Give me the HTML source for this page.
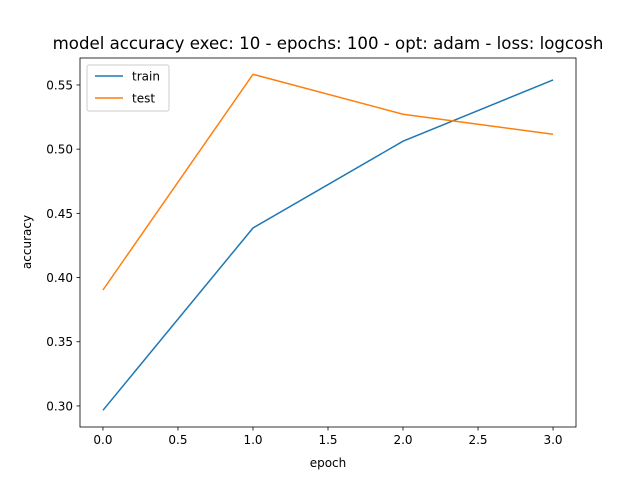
<!DOCTYPE html>
<html><head><meta charset="utf-8"><style>
body{margin:0;background:#fff}
svg text{font-family:"DejaVu Sans","Liberation Sans",sans-serif;fill:#000}
</style></head><body>
<svg id="chart" width="640" height="480" xmlns="http://www.w3.org/2000/svg">
<rect width="640" height="480" fill="#fff"/>
<text x="328" y="49" font-size="16.6" text-anchor="middle">model accuracy exec: 10 - epochs: 100 - opt: adam - loss: logcosh</text>
<g id="plot"></g>
<text x="328" y="467" font-size="12" text-anchor="middle">epoch</text>
<text x="31" y="242" font-size="12" text-anchor="middle" transform="rotate(-90 31 242)">accuracy</text>
</svg>
<script>
const epochs=[0,1,2,3];
const trainVals=[0.2966,0.4386,0.5062,0.5539];
const testVals=[0.3903,0.5583,0.5272,0.5116];
const xTicks=[0,0.5,1,1.5,2,2.5,3];
const xTickLabels=["0.0","0.5","1.0","1.5","2.0","2.5","3.0"];
const yTicks=[0.30,0.35,0.40,0.45,0.50,0.55];
const yTickLabels=["0.30","0.35","0.40","0.45","0.50","0.55"];
const L=80,R=576,T=58,B=427;
const xMin=-0.153,xMax=3.153,yMin=0.2836,yMax=0.571;
const sx=v=>L+(v-xMin)/(xMax-xMin)*(R-L);
const sy=v=>B-(v-yMin)/(yMax-yMin)*(B-T);
const g=document.getElementById('plot');
const NS="http://www.w3.org/2000/svg";
function mk(tag,attrs){const e=document.createElementNS(NS,tag);for(const k in attrs)e.setAttribute(k,attrs[k]);g.appendChild(e);return e;}
xTicks.forEach((v,i)=>{
 const t=mk('line',{x1:sx(v),x2:sx(v),y1:B,y2:B+3.5,stroke:'#000','stroke-width':0.8});
 
 
 const tx=mk('text',{x:sx(v),y:B+17,'font-size':12,'text-anchor':'middle'});tx.textContent=xTickLabels[i];
 
 
});
yTicks.forEach((v,i)=>{
 const t=mk('line',{x1:L-3.5,x2:L,y1:sy(v),y2:sy(v),stroke:'#000','stroke-width':0.8});
 
 
 const tx=mk('text',{x:L-7,y:sy(v)+4.5,'font-size':12,'text-anchor':'end'});tx.textContent=yTickLabels[i];
 
 
});
function line(vals,color,name){
 const p=mk('polyline',{points:epochs.map((e,i)=>sx(e)+','+sy(vals[i])).join(' '),fill:'none',stroke:color,'stroke-width':1.5});
 
 
}
line(trainVals,'#1f77b4','train-line');
line(testVals,'#ff7f0e','test-line');
const fr=mk('rect',{x:L,y:T,width:R-L,height:B-T,fill:'none',stroke:'#000','stroke-width':0.8});


const lg=mk('rect',{x:87,y:65,width:82,height:46,fill:'#fff','fill-opacity':0.8,stroke:'#ccc',rx:2});


[['train','#1f77b4',76],['test','#ff7f0e',98]].forEach(([n,c,y])=>{
 const l=mk('line',{x1:95,x2:123,y1:y,y2:y,stroke:c,'stroke-width':1.5});
 
 
 const t=mk('text',{x:132,y:y+4.5,'font-size':12});t.textContent=n;
 
 
});
</script>
</body></html>
